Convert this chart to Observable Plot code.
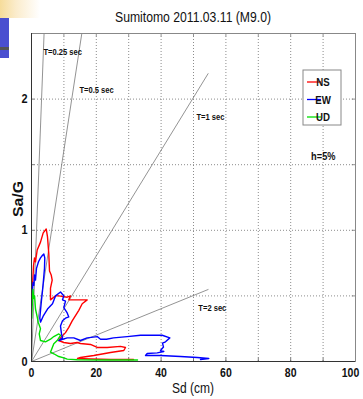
<!DOCTYPE html>
<html>
<head>
<meta charset="utf-8">
<script src="https://cdn.jsdelivr.net/npm/d3@7"></script>
<script src="https://cdn.jsdelivr.net/npm/@observablehq/plot@0.6"></script>
<style>
  html, body { margin: 0; padding: 0; background: #fff; }
  #wrap { position: relative; width: 363px; height: 399px; overflow: hidden; }
  #deco-y { position: absolute; left: 0; top: 0; width: 40px; height: 18px;
    background: linear-gradient(90deg, #f6dc9a 0%, #fbeccc 40%, rgba(255,255,255,0) 100%); }
  #deco-b { position: absolute; left: 0; top: 18px; width: 9px; height: 40px; background: #4a4fd0; }
  #deco-l { position: absolute; left: 0; top: 47px; width: 9px; height: 3px; background: #555; }
  #chart { position: absolute; left: 0; top: 0; }
  svg { font-family: "Liberation Sans", Arial, sans-serif; }
</style>
</head>
<body>
<div id="wrap">
  <div id="deco-y"></div><div id="deco-b"></div><div id="deco-l"></div>
  <div id="chart"></div>
</div>
<script>
// ---- Data (Sd in cm, Sa in G) ----
const nsSd = [0.15,0.40,0.62,0.93,1.23,1.76,2.78,3.61,4.54,4.94,5.34,5.56,6.08,6.39,5.86,5.86,7.41,8.43,11.02,12.04,11.51,13.58,17.19,15.65,14.60,12.56,11.51,10.49,8.95,8.43,9.97,12.04,14.10,15.12,18.21,20.28,23.36,27.47,29.01,28.49,24.38,19.23,15.12,14.20,18.21,24.38,31.48];
const nsSa = [0.54,0.62,0.73,0.79,0.76,0.85,0.91,0.98,1.01,0.95,0.82,0.69,0.66,0.62,0.56,0.47,0.50,0.50,0.49,0.50,0.47,0.47,0.47,0.44,0.39,0.31,0.26,0.22,0.18,0.16,0.145,0.137,0.145,0.137,0.13,0.107,0.107,0.115,0.107,0.084,0.069,0.046,0.031,0.023,0.019,0.015,0.015];

const ewSd = [0.15,0.31,0.46,0.71,0.93,1.23,1.54,2.16,2.78,3.40,3.80,4.10,4.01,3.70,3.40,3.09,2.78,2.56,2.78,3.70,4.94,6.48,7.41,8.95,9.97,9.57,10.49,9.97,11.02,11.51,10.49,9.57,8.95,9.26,9.57,8.43,11.02,13.06,15.12,17.19,20.28,21.30,23.15,25.31,29.54,33.64,36.73,40.34,42.69,41.36,40.43,40.74,39.81,40.83,38.80,35.71,35.19,39.81,45.99,51.14,54.72,52.16];
const ewSa = [0.43,0.54,0.60,0.58,0.66,0.62,0.71,0.76,0.79,0.81,0.82,0.79,0.71,0.62,0.54,0.47,0.39,0.33,0.30,0.35,0.40,0.44,0.50,0.53,0.50,0.47,0.46,0.41,0.37,0.34,0.33,0.31,0.27,0.21,0.18,0.16,0.18,0.18,0.16,0.18,0.19,0.17,0.17,0.18,0.19,0.20,0.20,0.20,0.18,0.15,0.14,0.11,0.084,0.076,0.066,0.061,0.046,0.046,0.038,0.031,0.023,0.015];

const udSd = [0.09,0.25,0.45,0.70,0.95,1.23,1.76,2.07,2.78,2.38,2.78,4.32,5.86,6.88,8.43,8.95,7.93,6.88,5.86,6.88,8.43,9.97,11.02,14.10,21.30,32.72];
const udSa = [0.33,0.45,0.55,0.48,0.50,0.40,0.34,0.30,0.25,0.21,0.16,0.15,0.17,0.19,0.21,0.20,0.16,0.135,0.071,0.059,0.038,0.028,0.018,0.013,0.011,0.011];

const periods = [0.25, 0.5, 1, 2];              // seconds
const periodLabels = ["T=0.25 sec", "T=0.5 sec", "T=1 sec", "T=2 sec"];
const periodLabelSd = [3.7, 14.8, 50.9, 51.5];
const periodLabelSa = [2.36, 2.07, 1.86, 0.41];
const periodLineEndSd = 54.5;

const seriesNames = ["NS", "EW", "UD"];
const seriesColors = ["#ff0000", "#0000ff", "#00e000"];
const xTicks = [0, 20, 40, 60, 80];
const xTickLast = [100];
const yTicks = [0, 1, 2];
const title = "Sumitomo 2011.03.11 (M9.0)";
const dampingNote = "h=5%";

// ---- Build tables ----
const curves = [];
[[nsSd, nsSa], [ewSd, ewSa], [udSd, udSa]].forEach(([sd, sa], k) => {
  sd.forEach((v, i) => curves.push({series: seriesNames[k], Sd: v, Sa: sa[i], i}));
});
const g = 980.665; // cm/s^2
const periodSegs = [];
periods.forEach((T) => {
  const slope = (4 * Math.PI * Math.PI) / (T * T * g);
  periodSegs.push({T, Sd: 0, Sa: 0});
  periodSegs.push({T, Sd: periodLineEndSd, Sa: slope * periodLineEndSd});
});
const periodText = periods.map((T, k) => ({label: periodLabels[k], Sd: periodLabelSd[k], Sa: periodLabelSa[k]}));

const gridXv = d3.range(10, 100, 10);
const gridYv = d3.range(0.5, 2.5, 0.5);

const tickLabelStyle = {fontSize: 12.5, fontWeight: "bold", fill: "#111", frameAnchor: "bottom", dy: 11, lineAnchor: "middle"};

const W = 363, H = 399;
const chart = Plot.plot({
  width: W, height: H,
  marginLeft: 31, marginRight: 8, marginTop: 33, marginBottom: 38,
  style: {background: "transparent", overflow: "visible"},
  x: {domain: [0, 100], axis: null},
  y: {domain: [0, 2.5], axis: null},
  color: {domain: seriesNames, range: seriesColors},
  marks: [
    Plot.gridX(gridXv, {stroke: "#8c8c8c", strokeOpacity: 1, strokeDasharray: "1,2", strokeWidth: 1}),
    Plot.gridY(gridYv, {stroke: "#8c8c8c", strokeOpacity: 1, strokeDasharray: "1,2", strokeWidth: 1}),
    Plot.ruleX(gridXv, {x: d => d, y1: 0, y2: 0.025, stroke: "#555", strokeWidth: 0.8}),
    Plot.ruleX(gridXv, {x: d => d, y1: 2.475, y2: 2.5, stroke: "#777", strokeWidth: 0.8}),
    Plot.ruleY(gridYv, {y: d => d, x1: 99, x2: 100, stroke: "#777", strokeWidth: 0.8}),
    Plot.ruleY(gridYv, {y: d => d, x1: 0, x2: 1, stroke: "#555", strokeWidth: 0.8}),
    Plot.line(periodSegs, {x: "Sd", y: "Sa", z: "T", stroke: "#777", strokeWidth: 0.8, clip: true}),
    Plot.text(periodText, {x: "Sd", y: "Sa", text: "label", textAnchor: "start", fontSize: 9, fontWeight: "bold", fill: "#111"}),
    Plot.line(curves, {x: "Sd", y: "Sa", z: "series", stroke: "series", strokeWidth: 1.4, sort: null}),
    Plot.frame({stroke: "#888", strokeWidth: 1}),
    Plot.ruleY([0], {stroke: "#333"}),
    Plot.ruleX([0], {stroke: "#333"}),
    Plot.text(xTicks, {x: d => d, text: d => String(d), ...tickLabelStyle}),
    Plot.text(xTickLast, {x: d => d, text: d => String(d), ...tickLabelStyle, dx: -5}),
    Plot.text(yTicks, {y: d => d, text: d => String(d), frameAnchor: "left", dx: -4, textAnchor: "end", fontSize: 13, fontWeight: "bold", fill: "#111"}),
    Plot.text([dampingNote], {frameAnchor: "top-right", dx: -20, dy: 119, text: d => d, textAnchor: "end", fontSize: 11, fontWeight: "bold", fill: "#111"}),
  ]
});

const svg = d3.select(chart);
// Title
svg.append("text").attr("class", "fixed").attr("x", 193).attr("y", 22).attr("text-anchor", "middle")
  .attr("font-size", 14.5).attr("fill", "#111")
  .attr("textLength", 156).attr("lengthAdjust", "spacingAndGlyphs").text(title);
// Axis labels
svg.append("text").attr("class", "fixed").attr("x", 193).attr("y", 393).attr("text-anchor", "middle")
  .attr("font-size", 15).attr("fill", "#111")
  .attr("textLength", 42).attr("lengthAdjust", "spacingAndGlyphs").text("Sd (cm)");
svg.append("text").attr("class", "fixed").attr("transform", "translate(23,199) rotate(-90)").attr("text-anchor", "middle")
  .attr("font-size", 15).attr("font-weight", "bold").attr("fill", "#111")
  .attr("textLength", 36).attr("lengthAdjust", "spacingAndGlyphs").text("Sa/G");
// Legend box
const lg = svg.append("g").attr("transform", "translate(303,70)");
lg.append("rect").attr("width", 38).attr("height", 55).attr("fill", "#fff").attr("stroke", "#888");
seriesNames.forEach((n, k) => {
  const yy = 12 + k * 17.5;
  lg.append("line").attr("x1", 4).attr("x2", 18).attr("y1", yy).attr("y2", yy)
    .attr("stroke", seriesColors[k]).attr("stroke-width", 1.3);
  lg.append("text").attr("x", 20).attr("y", yy).attr("dy", "0.35em")
    .attr("font-size", 11.5).attr("font-weight", "bold").attr("fill", "#111").text(n);
});

document.getElementById("chart").appendChild(chart);

// Emulate the narrow (Arial Narrow-like) lettering of the original figure
svg.selectAll("text").each(function () {
  if (this.getAttribute("class") === "fixed") return;
  const len = this.getComputedTextLength();
  if (len > 0) {
    this.setAttribute("textLength", (len * 0.84).toFixed(2));
    this.setAttribute("lengthAdjust", "spacingAndGlyphs");
  }
});
</script>
</body>
</html>
